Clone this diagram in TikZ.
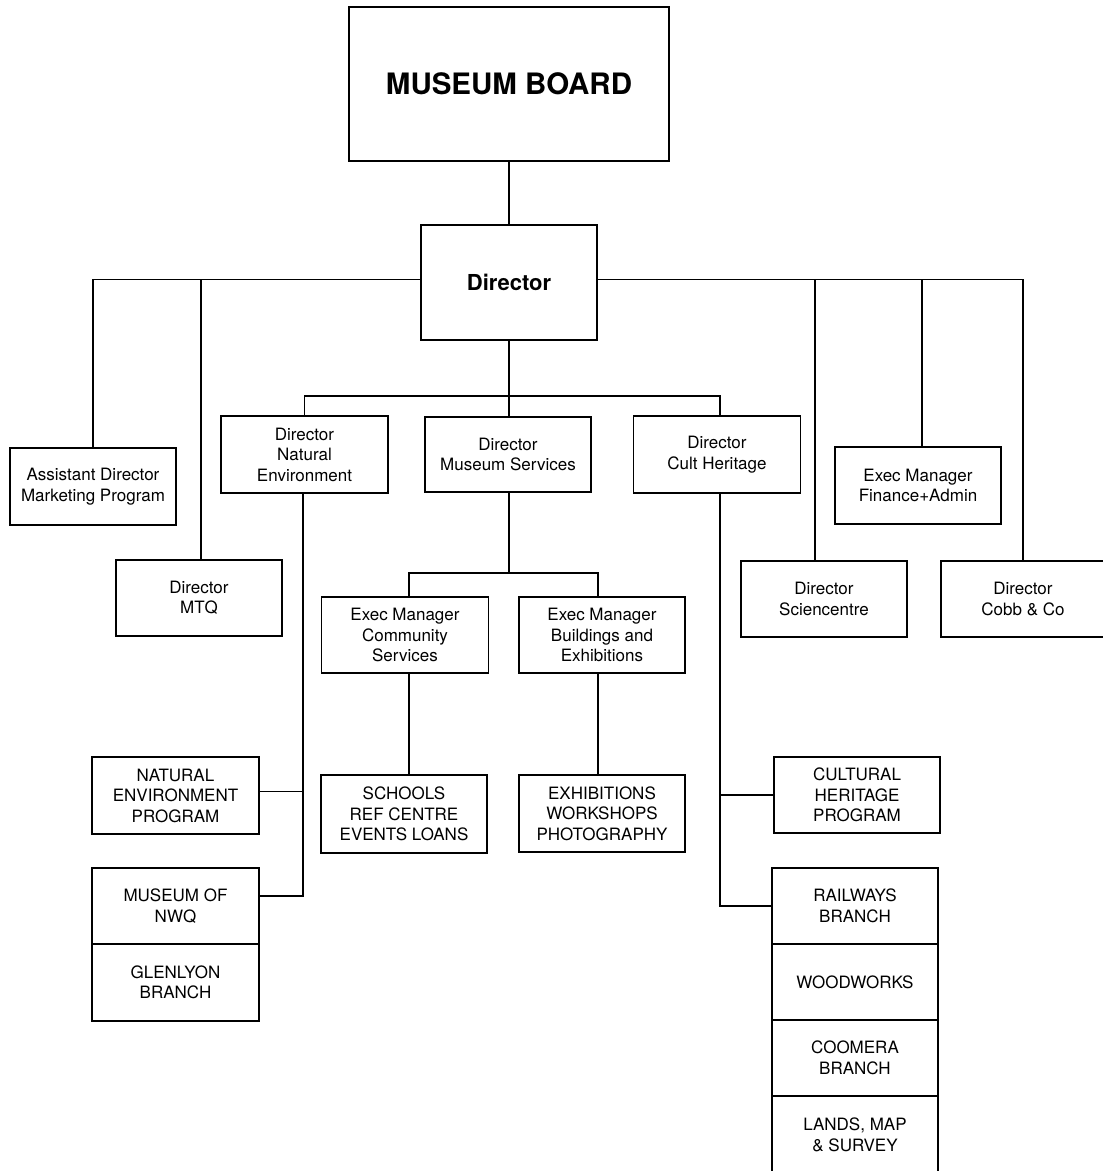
\documentclass[tikz,border=0pt]{standalone}
\usepackage{fontspec}
\setmainfont{TeX Gyre Heros}
\usepackage{tikz}

\tikzset{
    orgbox/.style={draw, line width=1.9pt, minimum width=167pt, minimum height=77pt,
        inner sep=0pt, outer sep=0pt, align=center, font=\fontsize{17}{20.5}\selectfont},
    link/.style={line width=1.6pt},
}

\begin{document}
\begin{tikzpicture}[x=1pt, y=-1pt]

    \fill[white] (0,0) rectangle (1103,1171);
    \useasboundingbox (0,0) rectangle (1103,1171);

    % top of the chart
    \node[orgbox, minimum width=320pt, minimum height=154pt, font=\bfseries\fontsize{29.5}{34}\selectfont] (board) at (509,84) {MUSEUM BOARD};
    \node[orgbox, minimum width=176pt, minimum height=115pt, font=\bfseries\fontsize{22}{26}\selectfont] (director) at (509,282.5) {Director};

    % first row
    \node[orgbox, minimum width=166pt] (asstdir) at (93,486.5) {Assistant Director\\Marketing Program};
    \node[orgbox, minimum width=166pt, minimum height=76pt] (mtq) at (199,598) {Director\\MTQ};
    \node[orgbox] (natenv) at (304.5,454.5) {Director\\Natural\\Environment};
    \node[orgbox, minimum width=166pt, minimum height=75pt] (musserv) at (508,454.5) {Director\\Museum Services};
    \node[orgbox] (cultherit) at (717,454.5) {Director\\Cult Heritage};
    \node[orgbox, minimum width=166pt] (finance) at (918,485.5) {Exec Manager\\Finance+Admin};
    \node[orgbox, minimum width=166pt, minimum height=76pt] (scicentre) at (824,599) {Director\\Sciencentre};
    \node[orgbox, minimum width=164pt, minimum height=76pt] (cobb) at (1023,599) {Director\\Cobb \& Co};

    % museum services
    \node[orgbox, minimum height=76pt] (community) at (405,635) {Exec Manager\\Community\\Services};
    \node[orgbox, minimum width=166pt, minimum height=76pt] (buildings) at (602,635) {Exec Manager\\Buildings and\\Exhibitions};
    \node[orgbox, minimum width=166pt, minimum height=78pt] (schools) at (404,814) {SCHOOLS\\REF CENTRE\\EVENTS LOANS};
    \node[orgbox, minimum width=166pt] (exhib) at (602,813.5) {EXHIBITIONS\\WORKSHOPS\\PHOTOGRAPHY};

    % natural environment
    \node[orgbox] (natprog) at (175.5,795.5) {NATURAL\\ENVIRONMENT\\PROGRAM};
    \node[orgbox, minimum height=76pt] (nwq) at (175.5,906) {MUSEUM OF\\NWQ};
    \node[orgbox, anchor=north] (glenlyon) at (nwq.south) {GLENLYON\\BRANCH};

    % cultural heritage
    \node[orgbox, minimum width=166pt, minimum height=76pt] (culprog) at (857,795) {CULTURAL\\HERITAGE\\PROGRAM};
    \node[orgbox, minimum width=166pt, minimum height=76pt] (railways) at (855,906) {RAILWAYS\\BRANCH};
    \node[orgbox, minimum width=166pt, minimum height=76pt, anchor=north] (woodworks) at (railways.south) {WOODWORKS};
    \node[orgbox, minimum width=166pt, minimum height=76pt, anchor=north] (coomera) at (woodworks.south) {COOMERA\\BRANCH};
    \node[orgbox, minimum width=166pt, minimum height=78pt, anchor=north] (lands) at (coomera.south) {LANDS, MAP\\\& SURVEY};

    % connectors
    \coordinate (natdrop) at ([xshift=-1.5pt]natenv.south);
    \coordinate (cultdrop) at ([xshift=3pt]cultherit.south);

    \draw[link] (board) -- (director);
    \draw[link] ([yshift=3pt]director.west) -| (asstdir.north);
    \draw[link] ([yshift=3pt]director.west) -| ([xshift=2pt]mtq.north);
    \draw[link] ([yshift=3pt]director.east) -| ([xshift=-9pt]scicentre.north);
    \draw[link] ([yshift=3pt]director.east) -| ([xshift=4pt]finance.north);
    \draw[link] ([yshift=3pt]director.east) -| (cobb.north);

    \draw[link] (director.south) -- ++(0,56) coordinate (dirsplit);
    \draw[link] (natenv.north) |- (dirsplit) -| ([xshift=3pt]cultherit.north);
    \draw[link] (dirsplit) -- (dirsplit |- musserv.north);

    \draw[link] (dirsplit |- musserv.south) -- ++(0,81) coordinate (mssplit);
    \draw[link] ([xshift=4pt]community.north) |- (mssplit) -| ([xshift=-4pt]buildings.north);
    \draw[link] ([xshift=4pt]community.south) -- ([xshift=4pt]community.south |- schools.north);
    \draw[link] ([xshift=-4pt]buildings.south) -- ([xshift=-4pt]buildings.south |- exhib.north);

    \draw[link] (natdrop) |- ([yshift=10pt]nwq.east);
    \draw[link] ([yshift=4pt]natprog.east) -| (natdrop);

    \draw[link] (cultdrop) |- (railways.west);
    \draw[link] (culprog.west) -| (cultdrop);

\end{tikzpicture}
\end{document}
